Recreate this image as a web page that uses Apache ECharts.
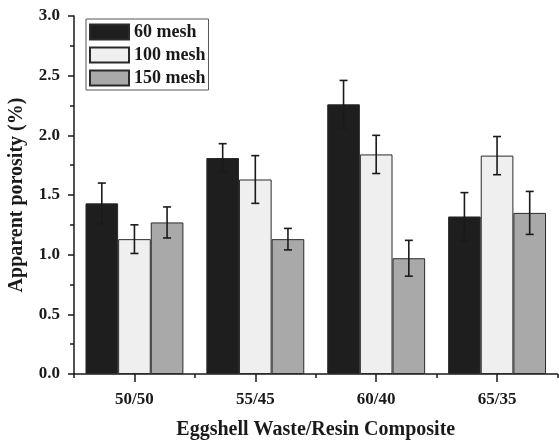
<!DOCTYPE html>
<html>
<head>
<meta charset="utf-8">
<script src="https://cdn.jsdelivr.net/npm/echarts@6/dist/echarts.min.js"></script>
<style>html,body{margin:0;padding:0;background:#fff}#c{width:559px;height:441px}</style>
</head>
<body>
<div id="c"></div>
<script>
const categories = ['50/50', '55/45', '60/40', '65/35'];
const seriesNames = ['60 mesh', '100 mesh', '150 mesh'];
const mesh60 = [1.43, 1.81, 2.26, 1.32];
const mesh100 = [1.13, 1.63, 1.84, 1.83];
const mesh150 = [1.27, 1.13, 0.97, 1.35];
const err60 = [0.17, 0.12, 0.20, 0.20];
const err100 = [0.12, 0.20, 0.16, 0.16];
const err150 = [0.13, 0.09, 0.15, 0.18];
const yTicks = [0, 0.5, 1.0, 1.5, 2.0, 2.5, 3.0];

const values = [mesh60, mesh100, mesh150];
const errors = [err60, err100, err150];
const colors = ['#1e1e1e', '#efefef', '#a9a9a9'];
const FONT = '"Liberation Serif", "Times New Roman", serif';
const AX = '#1a1a1a';
const GAP = 0.19;

const chart = echarts.init(document.getElementById('c'), null, {renderer: 'canvas'});

const barSeries = seriesNames.map((name, i) => ({
  name: name,
  type: 'bar',
  xAxisIndex: 0,
  data: values[i],
  barGap: '0%',
  barCategoryGap: (GAP * 100) + '%',
  itemStyle: {color: colors[i], borderColor: '#2a2a2a', borderWidth: 1},
  emphasis: {disabled: true},
  z: 2
}));

const errSeries = seriesNames.map((name, i) => ({
  type: 'custom',
  xAxisIndex: 0,
  data: categories.map((c, k) => [k, values[i][k], errors[i][k]]),
  z: 5,
  silent: true,
  renderItem: function (params, api) {
    const k = api.value(0), v = api.value(1), e = api.value(2);
    const band = api.size([1, 0])[0];
    const bw = band * (1 - GAP) / 3;
    const off = (i - 1) * bw;
    const top = api.coord([k, v + e]);
    const bot = api.coord([k, v - e]);
    const x = top[0] + off;
    const cap = 4;
    const st = {stroke: '#1a1a1a', lineWidth: 1.6};
    return {
      type: 'group',
      children: [
        {type: 'line', shape: {x1: x, y1: top[1], x2: x, y2: bot[1]}, style: st},
        {type: 'line', shape: {x1: x - cap, y1: top[1], x2: x + cap, y2: top[1]}, style: st},
        {type: 'line', shape: {x1: x - cap, y1: bot[1], x2: x + cap, y2: bot[1]}, style: st}
      ]
    };
  }
}));

chart.setOption({
  animation: false,
  backgroundColor: '#ffffff',
  grid: {left: 74, right: 1.5, top: 16, bottom: 67, containLabel: false, outerBoundsMode: 'none'},
  legend: {
    data: seriesNames.map(n => ({name: n, icon: 'rect'})),
    orient: 'vertical',
    left: 86, top: 19,
    itemWidth: 39, itemHeight: 15, itemGap: 5,
    padding: [4, 3, 3, 3],
    borderColor: '#555', borderWidth: 1,
    selectedMode: false,
    textStyle: {fontFamily: FONT, fontWeight: 'bold', fontSize: 18, color: '#1a1a1a', lineHeight: 18}
  },
  xAxis: [{
    type: 'category',
    data: categories,
    name: 'Eggshell Waste/Resin Composite',
    nameLocation: 'middle',
    nameGap: 46,
    nameTextStyle: {fontFamily: FONT, fontWeight: 'bold', fontSize: 20, color: '#1a1a1a'},
    axisLine: {lineStyle: {color: AX, width: 1.5}},
    axisTick: {show: true, length: 4, lineStyle: {color: AX, width: 1.5}},
    axisLabel: {fontFamily: FONT, fontWeight: 'bold', fontSize: 17, color: '#1a1a1a', margin: 17, interval: 0},
    splitLine: {show: false}
  }, {
    type: 'category',
    data: categories,
    position: 'bottom',
    axisLine: {show: false},
    axisTick: {show: true, alignWithLabel: true, length: 8, lineStyle: {color: AX, width: 1.5}},
    axisLabel: {show: false},
    splitLine: {show: false}
  }],
  yAxis: {
    type: 'value',
    min: 0, max: 3, interval: 0.5,
    name: 'Apparent porosity (%)',
    nameLocation: 'middle',
    nameGap: 47,
    nameTextStyle: {fontFamily: FONT, fontWeight: 'bold', fontSize: 20, color: '#1a1a1a'},
    axisLine: {show: true, lineStyle: {color: AX, width: 1.5}},
    axisTick: {show: true, length: 6, lineStyle: {color: AX, width: 1.5}},
    minorTick: {show: true, splitNumber: 2, length: 4, lineStyle: {color: AX, width: 1.5}},
    axisLabel: {
      fontFamily: FONT, fontWeight: 'bold', fontSize: 17, color: '#1a1a1a', margin: 14,
      formatter: v => (yTicks.indexOf(v) >= 0 ? v.toFixed(1) : '')
    },
    splitLine: {show: false}
  },
  series: barSeries.concat(errSeries)
});
</script>
</body>
</html>
